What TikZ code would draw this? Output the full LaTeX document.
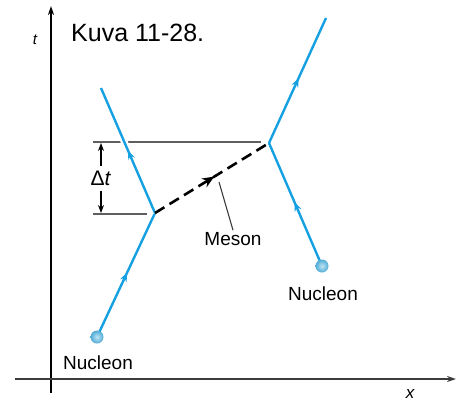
\documentclass[tikz,border=0pt]{standalone}
\usepackage{fontspec}
\setmainfont{Liberation Sans}
\usetikzlibrary{arrows.meta,decorations.markings}
\definecolor{nblue}{RGB}{20,160,225}
\definecolor{dotblue}{RGB}{90,190,235}
\definecolor{gline}{RGB}{95,95,95}
\definecolor{axcol}{RGB}{60,60,60}
\tikzset{
  world/.style={nblue,line width=2.4pt,
    postaction={decorate,decoration={markings,mark=at position #1 with {\arrow{Stealth[length=9pt,width=7pt]}}}}},
  world/.default=0.5,
  halo/.style={preaction={draw=white,line width=7pt}},
  guide/.style={gline,line width=1.8pt},
  dot/.style={circle,minimum size=13pt,inner sep=0pt,inner color=dotblue!40!white,outer color=dotblue!90!black,draw=none},
  lbl/.style={font=\fontsize{19}{19}\selectfont,inner sep=0pt}
}
\begin{document}
\begin{tikzpicture}[x=1pt,y=-1pt]
\useasboundingbox (0,0) rectangle (461,405);
% axes
\coordinate (o1) at (51,393);
\coordinate (tt) at (51,6);
\coordinate (x0) at (15,379);
\coordinate (xx) at (456,379);
\draw[black,line width=1.6pt,-{Stealth[length=9pt,width=6pt]}] (o1) -- (tt);
\draw[axcol,line width=2.2pt,-{Stealth[length=9pt,width=6pt]}] (x0) -- (xx);
\node[inner sep=0pt,font=\fontsize{15}{15}\selectfont\itshape] (tl) at (35,40) {t};
\node[inner sep=0pt,font=\fontsize{17}{17}\selectfont\itshape] (xl) at (410,394) {x};
\node[anchor=west,inner sep=0pt,font=\fontsize{25}{25}\selectfont] (title) at (71,33) {Kuva 11-28.};
% points
\coordinate (A) at (97,337);
\coordinate (V1) at (155,213);
\coordinate (T1) at (101,88);
\coordinate (V2) at (269,143);
\coordinate (T2) at (326,18);
\coordinate (B) at (322,266);
% guide lines
\coordinate (h1a) at (93,142);
\coordinate (h1b) at (261,142);
\coordinate (h2a) at (93,214);
\coordinate (h2b) at (147,214);
\draw[guide] (h1a) -- (h1b);
\draw[guide] (h2a) -- (h2b);
% delta t
\coordinate (d1) at (101,166);
\coordinate (d2) at (101,191);
\coordinate (d1e) at (101,143);
\coordinate (d2e) at (101,213);
\draw[black,line width=1.2pt,-{Stealth[length=8pt,width=6pt]}] (d1) -- (d1e);
\draw[black,line width=1.2pt,-{Stealth[length=8pt,width=6pt]}] (d2) -- (d2e);
\node[lbl,font=\fontsize{21}{21}\selectfont] (dt) at (101,178) {Δ\textit{t}};
% world lines
\draw[world=0.52] (A) -- (V1);
\draw[world=0.5,halo] (V1) -- (T1);
\draw[world=0.52] (V2) -- (T2);
\draw[world=0.52] (B) -- (V2);
% meson
\draw[black,line width=2.6pt,dash pattern=on 11pt off 6pt,
  postaction={decorate,decoration={markings,mark=at position 0.52 with {\arrow{Stealth[length=12pt,width=10pt]}}}}] (V1) -- (V2);
\node[lbl] (meson) at (233,239) {Meson};
\coordinate (mp) at (219,182);
\draw[axcol,line width=1.1pt] (meson.north) ++(0,-2) -- (mp);
% nucleons
\node[dot] (n1) at (A) {};
\node[dot] (n2) at (B) {};
\node[lbl] (nl1) at (98,363) {Nucleon};
\node[lbl] (nl2) at (323,294) {Nucleon};
\end{tikzpicture}
\end{document}
